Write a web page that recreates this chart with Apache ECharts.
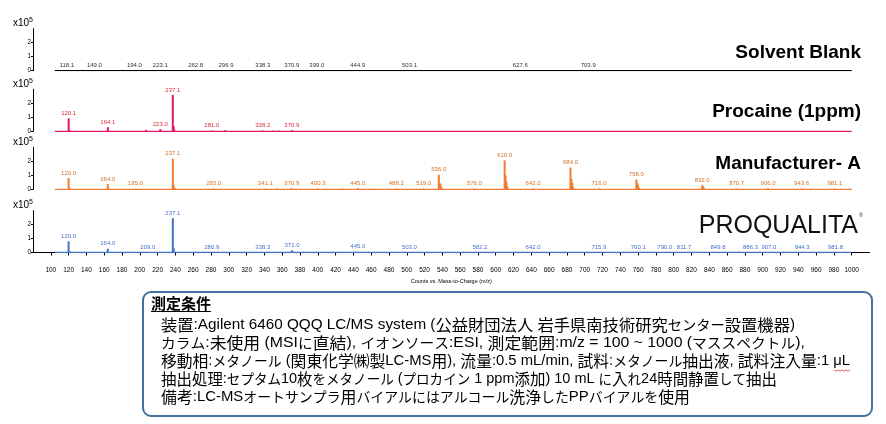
<!DOCTYPE html>
<html>
<head>
<meta charset="utf-8">
<script src="https://cdn.jsdelivr.net/npm/echarts@6/dist/echarts.min.js"></script>
<style>
  html, body { margin: 0; padding: 0; background: #fff; }
  #chart { width: 886px; height: 424px; }
</style>
</head>
<body>
<div id="chart"></div>
<script>
// スペクトルデータ (m/z, 強度 x10^5) 画像から読み取り
var panelNames = ['Solvent Blank', 'Procaine (1ppm)', 'Manufacturer- A', 'PROQUALITA'];
var panelColors = ['#000000', '#e0186a', '#ed7d31', '#4472c4'];
var labelColors = ['#333333', '#d92a3a', '#d0702a', '#4472c4'];

// ラベル付きピーク
var blankPeaks = [[118.1,0.03],[149.0,0.02],[194.0,0.02],[223.1,0.03],[262.8,0.02],[296.9,0.03],[338.3,0.02],[370.9,0.03],[399.0,0.02],[444.9,0.02],[503.1,0.02],[627.6,0.02],[703.9,0.02]];
var procainePeaks = [[120.1,0.93],[164.1,0.29],[223.0,0.15],[237.1,2.6],[281.0,0.05],[338.2,0.05],[370.9,0.07]];
var makerPeaks = [[120.0,0.8],[164.0,0.37],[195.0,0.04],[237.1,2.18],[283.0,0.05],[341.1,0.05],[370.9,0.07],[400.3,0.05],[445.0,0.08],[488.2,0.05],[519.0,0.05],[536.0,1.04],[576.0,0.05],[610.0,2.07],[642.0,0.05],[684.0,1.55],[716.0,0.05],[758.0,0.7],[832.0,0.3],[870.7,0.05],[906.0,0.07],[943.6,0.05],[981.1,0.05]];
var proqPeaks = [[120.0,0.8],[164.0,0.27],[209.0,0.03],[237.1,2.45],[280.9,0.03],[338.3,0.03],[371.0,0.15],[445.0,0.05],[503.0,0.03],[582.2,0.02],[642.0,0.02],[715.9,0.03],[760.1,0.02],[790.0,0.02],[811.7,0.02],[849.8,0.02],[886.3,0.02],[907.0,0.02],[944.3,0.02],[981.8,0.02]];

// ラベル無しの小ピーク・同位体ピーク
var blankMinor = [[278.0,0.04]];
var procaineMinor = [[121.1,0.08],[165.1,0.05],[207.0,0.1],[224.0,0.05],[238.1,0.35],[239.1,0.08],[296.0,0.08],[350.0,0.05],[356.0,0.05],[372.0,0.04],[390.0,0.03],[545.0,0.03]];
var makerMinor = [[121.0,0.1],[165.0,0.08],[238.1,0.3],[239.1,0.1],[355.0,0.05],[388.0,0.03],[428.0,0.04],[460.0,0.04],[505.0,0.03],[530.0,0.04],[537.0,0.45],[538.0,0.35],[539.0,0.15],[611.0,1.0],[612.0,0.55],[613.0,0.2],[685.0,0.75],[686.0,0.45],[687.0,0.15],[759.0,0.45],[760.0,0.3],[761.0,0.1],[833.0,0.2],[834.0,0.1]];
var proqMinor = [[121.0,0.08],[165.0,0.04],[222.0,0.03],[238.1,0.3],[239.1,0.06],[297.0,0.02],[355.0,0.04],[372.0,0.07],[428.0,0.03],[446.0,0.03],[520.0,0.02],[690.0,0.02],[740.0,0.02],[780.0,0.02]];

var allPeaks = [blankPeaks, procainePeaks, makerPeaks, proqPeaks];
var allMinor = [blankMinor, procaineMinor, makerMinor, proqMinor];

var baseRange = [104.5, 1000];   // ベースライン範囲
var yTicks = [0, 1, 2];

var gridTops = [28.7, 89.3, 147.3, 210.5];
var titleY = [53, 112, 164, 226];

var chart = echarts.init(document.getElementById('chart'));
var FONT = 'Arial, "Liberation Sans", sans-serif';
var JP = '"Noto Sans CJK JP", sans-serif';

var grid = [], xAxis = [], yAxis = [], series = [], graphic = [];

for (var i = 0; i < 4; i++) {
    grid.push({left: 33, right: 16.5, top: gridTops[i], height: 42});
    var bottom = (i == 3);
    xAxis.push({
        type: 'value', gridIndex: i, min: 80, max: 1020, interval: 20,
        show: bottom, offset: bottom ? 10 : 0,
        name: bottom ? 'Counts vs. Mass-to-Charge (m/z)' : '',
        nameLocation: 'middle', nameGap: 16,
        nameTextStyle: {fontSize: 5.5, color: '#000', fontFamily: FONT},
        axisLine: {lineStyle: {color: '#000', width: 1}},
        axisTick: {length: 3, lineStyle: {color: '#000'}},
        axisLabel: {fontSize: 6.5, color: '#000', margin: 4, fontFamily: FONT,
            showMinLabel: false, showMaxLabel: false,
            formatter: function (v) { return String(v); }},
        splitLine: {show: false}
    });
    yAxis.push({
        type: 'value', gridIndex: i, min: 0, max: 3, interval: 1,
        name: 'x10{s|5}', nameLocation: 'end', nameGap: 5,
        nameTextStyle: {fontSize: 10, color: '#000', align: 'right', verticalAlign: 'middle', fontFamily: FONT,
            rich: {s: {fontSize: 7, color: '#000', padding: [0, 0, 7, 0], fontFamily: FONT}}},
        axisLine: {show: true, lineStyle: {color: '#000', width: 1}},
        axisTick: {show: true, length: 2, customValues: yTicks, lineStyle: {color: '#000'}},
        axisLabel: {fontSize: 6.5, color: '#000', margin: 2, customValues: yTicks, fontFamily: FONT},
        splitLine: {show: false}
    });

    var data = [];
    allPeaks[i].forEach(function (p) { data.push({value: p}); });
    allMinor[i].forEach(function (p) { data.push({value: p, label: {show: false}}); });

    series.push({
        type: 'line', xAxisIndex: i, yAxisIndex: i,
        data: [[baseRange[0], 0], [baseRange[1], 0]],
        symbol: 'none', silent: true,
        lineStyle: {color: panelColors[i], width: 1.3}, z: 2
    });
    series.push({
        type: 'bar', xAxisIndex: i, yAxisIndex: i,
        data: data, barWidth: 2,
        itemStyle: {color: panelColors[i]},
        label: {
            show: true, position: 'top', distance: 2,
            fontSize: 6, color: labelColors[i], fontFamily: FONT,
            formatter: function (p) { return p.value[0].toFixed(1); }
        },
        z: 3
    });

    if (i < 3) {
        graphic.push({
            type: 'text', x: 861, y: titleY[i],
            style: {text: panelNames[i], textAlign: 'right', textVerticalAlign: 'middle',
                font: 'bold 19px ' + FONT, fill: '#000'}
        });
    }
}

// PROQUALITA ロゴ
graphic.push({
    type: 'text', x: 858, y: titleY[3],
    style: {text: panelNames[3], textAlign: 'right', textVerticalAlign: 'middle',
        font: '25px ' + FONT, fill: '#111'}
});
graphic.push({
    type: 'text', x: 859, y: 216,
    style: {text: '®', textAlign: 'left', textVerticalAlign: 'middle', font: '5px ' + FONT, fill: '#111'}
});

// 測定条件ボックス
var condTitle = '測定条件';
var condLines = [
    '装置:Agilent 6460 QQQ LC/MS system (公益財団法人 岩手県南技術研究センター設置機器)',
    'カラム:未使用 (MSIに直結), イオンソース:ESI, 測定範囲:m/z = 100 ~ 1000 (マススペクトル),',
    '移動相:メタノール (関東化学㈱製LC-MS用), 流量:0.5 mL/min, 試料:メタノール抽出液, 試料注入量:1 μL',
    '抽出処理:セプタム10枚をメタノール (プロカイン 1 ppm添加) 10 mL に入れ24時間静置して抽出',
    '備考:LC-MSオートサンプラ用バイアルにはアルコール洗浄したPPバイアルを使用'
];
var lineEnds = [795, 805, 850, 777, 690];   // 各行の右端 (参照画像)
var textLeft = 161;

var latinFont = '15px ' + FONT;
var kanjiFont = '16px ' + JP;
var kanaFont = '14px ' + JP;
var cjkRe = /([\u3000-\u30ff\u3200-\u32ff\u4e00-\u9fff\uff00-\uffef]+)/;
var kanaRe = /([\u3040-\u30ff]+)/;

// 漢字16px, かな14px, 欧文15pxに分割
function pieces(s) {
    var out = [];
    s.split(cjkRe).forEach(function (part, k) {
        if (!part) return;
        if (k % 2 == 0) { out.push(['l', part]); return; }
        part.split(kanaRe).forEach(function (q, m) {
            if (q) out.push([(m % 2) ? 'k' : 'j', q]);
        });
    });
    return out;
}
var fonts = {l: latinFont, j: kanjiFont, k: kanaFont};
var ctx = document.createElement('canvas').getContext('2d');
function measure(s) {
    var w = 0;
    pieces(s).forEach(function (p) { ctx.font = fonts[p[0]]; w += ctx.measureText(p[1]).width; });
    return w;
}
function richify(s) {
    return pieces(s).map(function (p) { return p[0] == 'l' ? p[1] : '{' + p[0] + '|' + p[1] + '}'; }).join('');
}

graphic.push({
    type: 'rect', shape: {x: 143, y: 292, width: 729, height: 124, r: 8},
    style: {fill: '#fff', stroke: '#41719c', lineWidth: 2}
});
graphic.push({
    type: 'text', x: 151, y: 303,
    style: {text: condTitle, textVerticalAlign: 'middle', font: 'bold 15px ' + JP, fill: '#000'}
});
graphic.push({
    type: 'line', shape: {x1: 151, y1: 311.5, x2: 211, y2: 311.5},
    style: {stroke: '#000', lineWidth: 1}
});
condLines.forEach(function (t, k) {
    var sx = (lineEnds[k] - textLeft) / measure(t);
    graphic.push({
        type: 'text', x: textLeft, y: 325 + k * 18, scaleX: sx,
        style: {text: richify(t), textVerticalAlign: 'middle', font: latinFont, fill: '#000',
            rich: {j: {font: kanjiFont, fill: '#000'}, k: {font: kanaFont, fill: '#000'}}}
    });
});

// μL の下の赤い波線 (スペルチェック跡)
var endX = lineEnds[2];
var uW = 16;
var wave = [];
for (var wx = endX - uW; wx <= endX + 0.5; wx += 2) {
    wave.push([wx, 370 + ((wave.length % 2) ? 1.2 : 0)]);
}
graphic.push({
    type: 'polyline', shape: {points: wave},
    style: {stroke: '#e03030', lineWidth: 0.8, fill: null}
});

chart.setOption({
    backgroundColor: '#fff',
    animation: false,
    grid: grid,
    xAxis: xAxis,
    yAxis: yAxis,
    series: series,
    graphic: graphic
});
</script>
</body>
</html>
